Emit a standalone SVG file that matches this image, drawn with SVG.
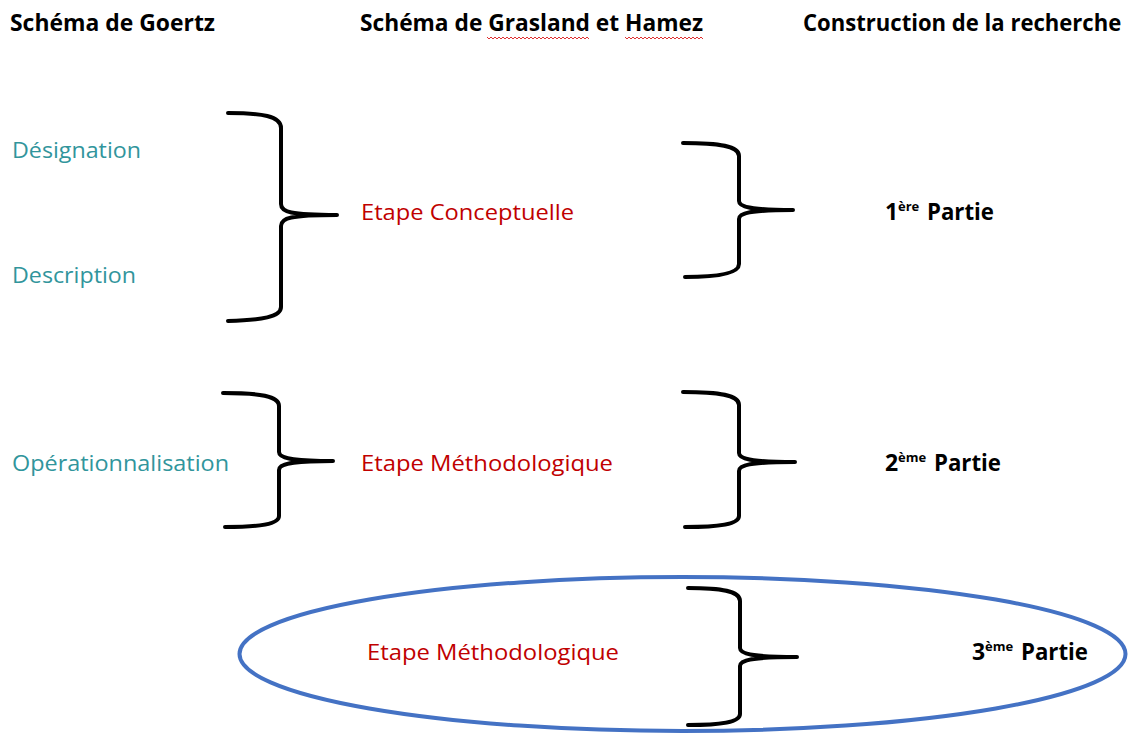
<svg xmlns="http://www.w3.org/2000/svg" width="1129" height="736" viewBox="0 0 1129 736">
<style>
.h{font-family:"Open Sans","Liberation Sans",sans-serif;font-weight:bold;font-size:23px;fill:#000}
.t{font-family:"Open Sans","Liberation Sans",sans-serif;font-size:22px;fill:#31959C}
.r{font-family:"Open Sans","Liberation Sans",sans-serif;font-size:22px;fill:#C00000}
.p{font-family:"Open Sans","Liberation Sans",sans-serif;font-weight:bold;font-size:23px;fill:#000}
.s{font-size:13px}
.b{fill:none;stroke:#000;stroke-width:4;stroke-linecap:round}
.w{fill:none;stroke:#E03030;stroke-width:1}
</style>
<rect width="1129" height="736" fill="#fff"/>
<g id="headers">
<text class="h" x="10" y="31" textLength="205" lengthAdjust="spacingAndGlyphs">Schéma de Goertz</text>
<text class="h" x="360" y="31" textLength="343" lengthAdjust="spacingAndGlyphs">Schéma de Grasland et Hamez</text>
<text class="h" transform="translate(803,31) scale(0.96,1)" x="0" y="0">Construction de la recherche</text>
<polyline class="w" points="487,37 489,39 491,37 493,39 495,37 497,39 499,37 501,39 503,37 505,39 507,37 509,39 511,37 513,39 515,37 517,39 519,37 521,39 523,37 525,39 527,37 529,39 531,37 533,39 535,37 537,39 539,37 541,39 543,37 545,39 547,37 549,39 551,37 553,39 555,37 557,39 559,37 561,39 563,37 565,39 567,37 569,39 571,37 573,39 575,37 577,39 579,37 581,39 583,37 585,39 587,37 589,39"/>
<polyline class="w" points="625,37 627,39 629,37 631,39 633,37 635,39 637,37 639,39 641,37 643,39 645,37 647,39 649,37 651,39 653,37 655,39 657,37 659,39 661,37 663,39 665,37 667,39 669,37 671,39 673,37 675,39 677,37 679,39 681,37 683,39 685,37 687,39 689,37 691,39 693,37 695,39 697,37 699,39 701,37 703,39"/>
</g>
<g id="goertz">
<text id="designation" class="t" x="12" y="158" textLength="129" lengthAdjust="spacingAndGlyphs">Désignation</text>
<text id="description" class="t" x="12" y="283" textLength="124" lengthAdjust="spacingAndGlyphs">Description</text>
<text id="operationnalisation" class="t" x="12" y="471" textLength="217" lengthAdjust="spacingAndGlyphs">Opérationnalisation</text>
</g>
<g id="grasland">
<text id="conceptuelle" class="r" x="361" y="220" textLength="213" lengthAdjust="spacingAndGlyphs">Etape Conceptuelle</text>
<text id="methodo1" class="r" x="361" y="471" textLength="252" lengthAdjust="spacingAndGlyphs">Etape Méthodologique</text>
<text id="methodo2" class="r" x="367" y="660" textLength="252" lengthAdjust="spacingAndGlyphs">Etape Méthodologique</text>
</g>
<g id="parties">
<text id="partie1" class="p" y="220"><tspan x="885">1</tspan><tspan class="s" x="898" dy="-9">ère</tspan><tspan x="927" dy="9" textLength="67" lengthAdjust="spacingAndGlyphs">Partie</tspan></text>
<text id="partie2" class="p" y="471"><tspan x="885">2</tspan><tspan class="s" x="898" dy="-9">ème</tspan><tspan x="934" dy="9" textLength="67" lengthAdjust="spacingAndGlyphs">Partie</tspan></text>
<text id="partie3" class="p" y="660"><tspan x="972">3</tspan><tspan class="s" x="985" dy="-9">ème</tspan><tspan x="1021" dy="9" textLength="67" lengthAdjust="spacingAndGlyphs">Partie</tspan></text>
</g>
<g id="connectors">
<path class="b" d="M228,113 C262,113 281,116 281,128 L281,204 C281,212 290,215 337,215 M337,215 C290,215 281,218 281,226 L281,307 C281,317 262,320 228,321"/>
<path class="b" d="M683,143 C720,143 739,146 739,156 L739,201 C739,207 750,210 793,210 M793,210 C750,210 739,213 739,219 L739,264 C739,273 720,277 685,277"/>
<path class="b" d="M223,393 C260,393 279,396 279,406 L279,452 C279,458 290,461 333,461 M333,461 C290,461 279,464 279,470 L279,516 C279,524 260,527 225,527"/>
<path class="b" d="M683,392 C720,392 739,395 739,405 L739,453 C739,459 750,462 795,462 M795,462 C750,462 739,465 739,471 L739,516 C739,524 720,527 685,527"/>
<path class="b" d="M688,588 C722,588 740,591 740,601 L740,648 C740,654 752,657 797,657 M797,657 C752,657 740,660 740,666 L740,714 C740,722 722,725 688,725"/>
</g>
<g id="highlight">
<ellipse cx="682.5" cy="654" rx="443" ry="77" fill="none" stroke="#4472C4" stroke-width="4"/>
</g>
</svg>
